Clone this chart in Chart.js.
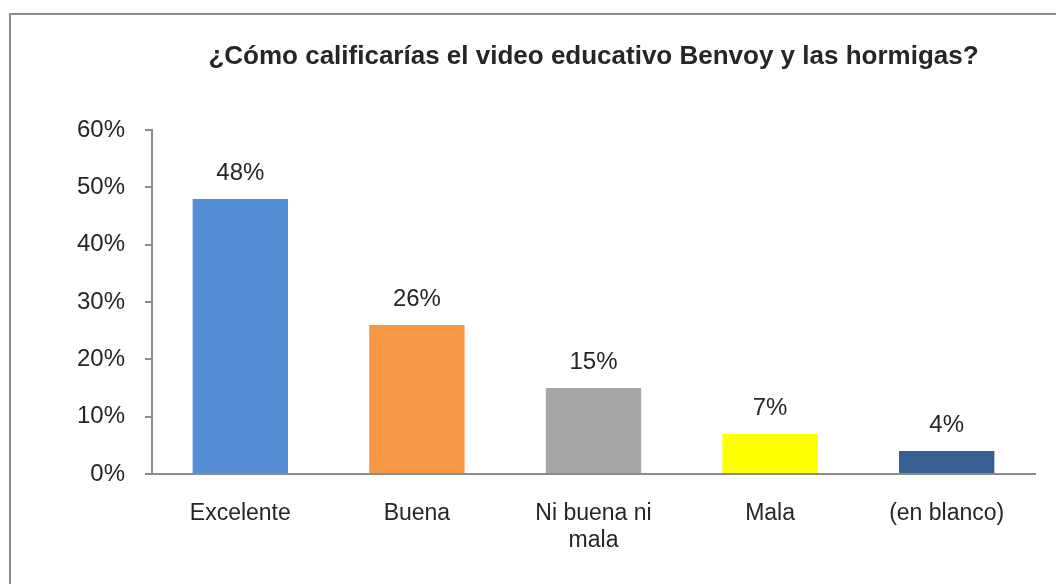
<!DOCTYPE html>
<html>
<head>
<meta charset="utf-8">
<script src="https://cdn.jsdelivr.net/npm/chart.js@4"></script>
<style>
  body { margin: 0; background: #fff; overflow: hidden; }
  #wrap { position: relative; width: 1056px; height: 584px; }
  #frame { position: absolute; left: 9px; top: 13px; width: 1100px; height: 700px;
           border: 2px solid #8c8c8c; pointer-events: none; }
</style>
</head>
<body>
<div id="wrap">
  <canvas id="chart" width="1056" height="584"></canvas>
  <div id="frame"></div>
</div>
<script>
const categories = ['Excelente', 'Buena', ['Ni buena ni', 'mala'], 'Mala', '(en blanco)']
const values = [48, 26, 15, 7, 4]
const barColors = ['#558ed5', '#f79646', '#a6a6a6', '#ffff00', '#376092']
const yTicks = [0, 10, 20, 30, 40, 50, 60]

const FONT = '"Liberation Sans", Arial, sans-serif'
const TEXT = '#262626'

// writes the % value above each bar
const barLabels = {
    id: 'barLabels',
    afterDatasetsDraw(chart) {
        const ctx = chart.ctx
        const meta = chart.getDatasetMeta(0)
        ctx.save()
        ctx.font = '24px ' + FONT
        ctx.fillStyle = TEXT
        ctx.textAlign = 'center'
        ctx.textBaseline = 'middle'
        meta.data.forEach((bar, i) => {
            ctx.fillText(values[i] + '%', bar.x, bar.y - 26)
        })
        ctx.restore()
    }
}

new Chart(document.getElementById('chart'), {
    type: 'bar',
    data: {
        labels: categories,
        datasets: [{
            data: values,
            backgroundColor: barColors,
            borderWidth: 0,
            categoryPercentage: 1,
            barPercentage: 0.54
        }]
    },
    options: {
        responsive: false,
        animation: false,
        layout: { padding: { left: 0, right: 21, top: 0, bottom: 0 } },
        plugins: {
            legend: { display: false },
            tooltip: { enabled: false },
            title: {
                display: true,
                fullSize: false,
                text: '¿Cómo calificarías el video educativo Benvoy y las hormigas?',
                color: TEXT,
                font: { family: FONT, size: 26, weight: 'bold', lineHeight: 1.2 },
                padding: { top: 41, bottom: 58 }
            }
        },
        scales: {
            x: {
                grid: { display: true, drawOnChartArea: false, drawTicks: false },
                border: { display: true, color: '#8c8c8c', width: 2 },
                ticks: {
                    color: TEXT,
                    padding: 26,
                    maxRotation: 0,
                    font: { family: FONT, size: 23, lineHeight: 1.17 }
                },
                afterFit(scale) { scale.height = 110 }
            },
            y: {
                min: 0,
                max: 60,
                afterBuildTicks(scale) { scale.ticks = yTicks.map(v => ({ value: v })) },
                grid: { drawOnChartArea: false, drawTicks: true, tickLength: 7, color: '#8c8c8c', lineWidth: 2 },
                border: { display: true, color: '#8c8c8c', width: 2 },
                ticks: {
                    color: TEXT,
                    padding: 20,
                    font: { family: FONT, size: 24 },
                    callback: v => v + '%'
                },
                afterFit(scale) { scale.width = 152 }
            }
        }
    },
    plugins: [barLabels]
})
</script>
</body>
</html>
